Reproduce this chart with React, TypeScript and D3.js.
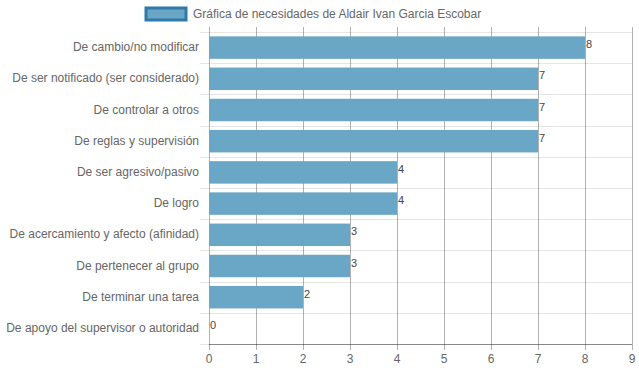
import React, { useEffect, useRef } from 'react';
import * as d3 from 'd3';

const categories = [
  'De cambio/no modificar',
  'De ser notificado (ser considerado)',
  'De controlar a otros',
  'De reglas y supervisión',
  'De ser agresivo/pasivo',
  'De logro',
  'De acercamiento y afecto (afinidad)',
  'De pertenecer al grupo',
  'De terminar una tarea',
  'De apoyo del supervisor o autoridad',
];
const values = [8, 7, 7, 7, 4, 4, 3, 3, 2, 0];
const xTicks = [0, 1, 2, 3, 4, 5, 6, 7, 8, 9];
const legendLabel = 'Gráfica de necesidades de Aldair Ivan Garcia Escobar';

const App = () => {
  const svgRef = useRef<SVGSVGElement>(null);

  useEffect(() => {
    const width = 639;
    const height = 372;
    const margin = { top: 32, right: 7, bottom: 28, left: 209 };
    const font = '"Liberation Sans", Arial, sans-serif';

    const svg = d3.select(svgRef.current);
    svg.selectAll('*').remove();

    const x = d3.scaleLinear().domain([0, 9]).range([margin.left, width - margin.right]);
    const y = d3.scaleBand().domain(categories).range([margin.top, height - margin.bottom]);
    const barH = y.bandwidth() * 0.72;

    // horizontal grid (between categories)
    const hLines = d3.range(categories.length + 1).map(i => margin.top + i * y.step());
    svg.append('g')
      .selectAll('line')
      .data(hLines)
      .join('line')
      .attr('x1', margin.left - 9)
      .attr('x2', width - margin.right)
      .attr('y1', d => Math.round(d) + 0.5)
      .attr('y2', d => Math.round(d) + 0.5)
      .attr('stroke', 'rgba(0,0,0,0.1)');

    // vertical grid
    svg.append('g')
      .selectAll('line')
      .data(xTicks)
      .join('line')
      .attr('x1', d => Math.round(x(d)) + 0.5)
      .attr('x2', d => Math.round(x(d)) + 0.5)
      .attr('y1', margin.top - 5)
      .attr('y2', height - margin.bottom + 6)
      .attr('stroke', 'rgba(0,0,0,0.3)');

    // bottom axis line
    svg.append('line')
      .attr('x1', margin.left)
      .attr('x2', width - margin.right)
      .attr('y1', height - margin.bottom + 0.5)
      .attr('y2', height - margin.bottom + 0.5)
      .attr('stroke', 'rgba(0,0,0,0.4)');

    // bars
    svg.append('g')
      .selectAll('rect')
      .data(values)
      .join('rect')
      .attr('x', x(0))
      .attr('y', (d, i) => y(categories[i])! + (y.bandwidth() - barH) / 2)
      .attr('width', d => x(d) - x(0))
      .attr('height', barH)
      .attr('fill', '#6aa6c5');

    // value labels
    svg.append('g')
      .selectAll('text')
      .data(values)
      .join('text')
      .attr('x', d => x(d) + 1)
      .attr('y', (d, i) => y(categories[i])! + y.bandwidth() / 2)
      .attr('dy', '0.05em')
      .attr('font-family', font)
      .attr('font-size', 11)
      .attr('fill', '#444')
      .text(d => d);

    // category labels
    svg.append('g')
      .selectAll('text')
      .data(categories)
      .join('text')
      .attr('x', margin.left - 10)
      .attr('y', d => y(d)! + y.bandwidth() / 2)
      .attr('dy', '0.3em')
      .attr('text-anchor', 'end')
      .attr('font-family', font)
      .attr('font-size', 12)
      .attr('fill', '#666')
      .text(d => d);

    // x tick labels
    svg.append('g')
      .selectAll('text')
      .data(xTicks)
      .join('text')
      .attr('x', d => x(d))
      .attr('y', height - margin.bottom + 19)
      .attr('text-anchor', 'middle')
      .attr('font-family', font)
      .attr('font-size', 12)
      .attr('fill', '#666')
      .text(d => d);

    // legend
    const legend = svg.append('g');
    legend.append('rect')
      .attr('x', 146)
      .attr('y', 8)
      .attr('width', 40)
      .attr('height', 12)
      .attr('fill', '#6aa6c5')
      .attr('stroke', '#2e7aaa')
      .attr('stroke-width', 3);
    legend.append('text')
      .attr('x', 193)
      .attr('y', 14)
      .attr('dy', '0.35em')
      .attr('font-family', font)
      .attr('font-size', 12)
      .attr('fill', '#666')
      .text(legendLabel);
  }, []);

  return (
    <svg ref={svgRef} width={639} height={372}
      style={{ position: 'absolute', left: 0, top: 0, background: '#fff' }} />
  );
};

export default App;
